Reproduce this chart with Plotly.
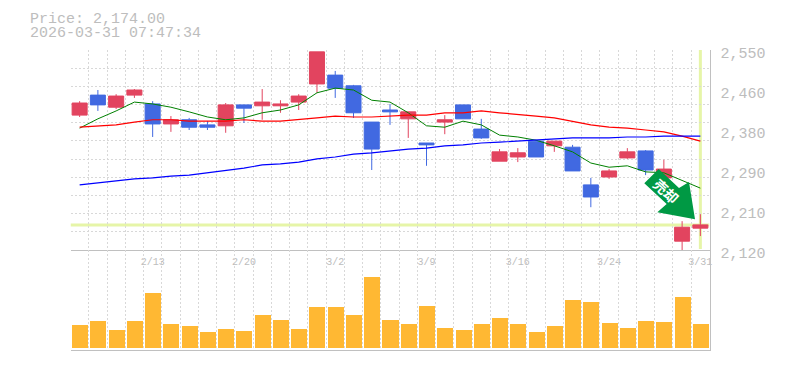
import plotly.graph_objects as go

dates = ["2/6","2/9","2/10","2/12","2/13","2/16","2/17","2/18","2/19","2/20",
         "2/24","2/25","2/26","2/27","3/2","3/3","3/4","3/5","3/6","3/9",
         "3/10","3/11","3/12","3/13","3/16","3/17","3/18","3/19","3/23","3/24",
         "3/25","3/26","3/27","3/30","3/31"]
opens  = [2410,2453,2427,2453,2434,2391,2400,2389,2387,2432,2430,2430,2438,2477,2496,2473,2395,2421,2402,2350,2395,2432,2380,2311,2320,2354,2344,2341,2260,2277,2318,2333,2275,2139,2167]
highs  = [2440,2464,2455,2466,2440,2408,2404,2397,2436,2432,2466,2442,2455,2546,2505,2475,2395,2434,2417,2350,2410,2432,2402,2337,2339,2354,2354,2346,2275,2294,2339,2335,2314,2182,2197]
lows   = [2406,2419,2423,2447,2363,2374,2378,2378,2372,2393,2400,2415,2421,2458,2447,2404,2292,2389,2361,2301,2369,2402,2359,2311,2309,2320,2331,2290,2212,2273,2316,2281,2264,2118,2150]
closes = [2436,2432,2451,2464,2391,2400,2384,2384,2432,2425,2438,2434,2451,2546,2468,2415,2337,2417,2417,2346,2400,2402,2361,2331,2329,2320,2354,2290,2234,2290,2331,2292,2294,2169,2174]
ma_short = [2382,2402,2419,2438,2434,2427,2417,2406,2400,2404,2415,2421,2432,2458,2468,2464,2442,2438,2415,2387,2384,2397,2389,2367,2363,2356,2344,2331,2307,2298,2301,2288,2286,2270,2253]
ma_mid   = [2384,2387,2389,2395,2400,2400,2397,2397,2397,2400,2397,2397,2400,2404,2408,2406,2406,2408,2410,2410,2415,2415,2419,2415,2412,2408,2404,2397,2389,2384,2382,2378,2374,2365,2354]
ma_long  = [2260,2264,2268,2273,2275,2279,2281,2286,2292,2296,2303,2305,2309,2316,2320,2326,2329,2333,2337,2339,2344,2346,2350,2352,2354,2356,2359,2361,2361,2361,2363,2363,2365,2365,2365]
volumes  = [23,27,18,27,55,24,22,16,19,17,33,28,19,41,41,33,71,28,24,42,20,18,24,30,24,16,22,48,46,25,20,27,26,51,24]

price_ticks = [2550,2464,2378,2292,2206,2120]
price_labels = ["2,550","2,460","2,380","2,290","2,210","2,120"]
date_labels = ["2/13","2/20","3/2","3/9","3/16","3/24","3/31"]
last_price = 2174
title_lines = ["Price: 2,174.00","2026-03-31 07:47:34"]
sign_text = "売却"

W, H = 785, 370
RED, BLUE, ORANGE = "#e2445f", "#4169e1", "#ffb833"
GRID, AXIS, TEXT = "#d8d8d8", "#c0c0c0", "#bdbdbd"
HILITE = "#e6f5a8"
ARROW = "#009944"
MONO = "Liberation Mono"
px = lambda x: x / W
py = lambda y: 1 - y / H

idx = list(range(len(dates)))
edges = [i - 0.5 for i in range(len(dates) + 1)]
ymin, ymax = min(price_ticks), max(price_ticks)
y_grid = [ymin + (ymax - ymin) * k / 11 for k in range(12)]
date_pos = [dates.index(d) for d in date_labels]

fig = go.Figure()
for vals, col, w in [(ma_short, "#008000", 1), (ma_mid, "#ff0000", 1.2), (ma_long, "#0000ff", 1.2)]:
    fig.add_trace(go.Scatter(x=idx, y=vals, mode="lines", line=dict(color=col, width=w),
                             xaxis="x", yaxis="y", hoverinfo="skip"))
fig.add_trace(go.Candlestick(x=idx, open=opens, high=highs, low=lows, close=closes,
                             xaxis="x", yaxis="y", whiskerwidth=0,
                             increasing=dict(line=dict(color=RED, width=1), fillcolor=RED),
                             decreasing=dict(line=dict(color=BLUE, width=1), fillcolor=BLUE)))
fig.add_trace(go.Bar(x=idx, y=volumes, width=0.877, marker=dict(color=ORANGE, line_width=0),
                     xaxis="x2", yaxis="y2"))

x_common = dict(range=[-0.5, 34.5], showgrid=False, zeroline=False, showline=True, automargin=False,
                linecolor=AXIS, linewidth=1, ticks="",
                minor=dict(tickmode="array", tickvals=edges, showgrid=True, gridcolor=GRID,
                           griddash="2px,2px", gridwidth=1, ticks=""))
fig.update_layout(
    width=W, height=H, margin=dict(l=0, r=0, t=0, b=0, autoexpand=False), autosize=False,
    paper_bgcolor="white", plot_bgcolor="white", showlegend=False,
    boxgap=0.177, boxgroupgap=0, boxmode="overlay",
    bargap=0,
    xaxis=dict(x_common, domain=[px(70.5), px(709.5)], anchor="y", rangeslider=dict(visible=False),
               tickmode="array", tickvals=date_pos, ticktext=date_labels,
               tickfont=dict(family=MONO, size=10, color=TEXT), ticklabelstandoff=2),
    xaxis2=dict(x_common, domain=[px(70.5), px(709.5)], anchor="y2", showticklabels=False),
    yaxis=dict(domain=[py(250), py(50)], range=[ymin, ymax], side="right", anchor="x", automargin=False,
               showgrid=False, zeroline=False, showline=True, linecolor=AXIS, linewidth=1, ticks="",
               tickmode="array", tickvals=price_ticks, ticktext=price_labels,
               tickfont=dict(family=MONO, size=15, color=TEXT), ticklabelshift=3, ticklabelstandoff=7,
               minor=dict(tickmode="array", tickvals=y_grid, showgrid=True, gridcolor=GRID,
                          griddash="2px,2px", gridwidth=1, ticks="")),
    yaxis2=dict(domain=[py(350), py(250)], range=[-2, 98], side="right", anchor="x2", automargin=False,
                showgrid=False, zeroline=False, showline=True, linecolor=AXIS, linewidth=1,
                ticks="", showticklabels=False),
    shapes=[
        dict(type="line", xref="x", yref="y", x0=-0.5, x1=34.5, y0=last_price, y1=last_price,
             line=dict(color=HILITE, width=3), layer="below"),
        dict(type="line", xref="x", yref="y", x0=34, x1=34, y0=ymin + 2, y1=ymax,
             line=dict(color=HILITE, width=3), layer="below"),
        dict(type="path", xref="paper", yref="paper", layer="above", fillcolor=ARROW, line_width=0,
             path="M{} {} L{} {} L{} {} L{} {} L{} {} L{} {} L{} {} Z".format(
                 px(644.3), py(183.3), px(658.7), py(169), px(679), py(188), px(689), py(182),
                 px(695), py(219.3), px(657.3), py(212.3), px(666.7), py(204))),
    ],
    annotations=[
        dict(text=title_lines[0], xref="paper", yref="paper", x=px(29), y=py(18.5), xanchor="left",
             yanchor="middle", showarrow=False, borderpad=0, height=14,
             font=dict(family=MONO, size=15, color=TEXT)),
        dict(text=title_lines[1], xref="paper", yref="paper", x=px(29), y=py(33.5), xanchor="left",
             yanchor="middle", showarrow=False, borderpad=0, height=14,
             font=dict(family=MONO, size=15, color=TEXT)),
        dict(text=sign_text, xref="paper", yref="paper", x=px(666.3), y=py(191.3), xanchor="center",
             yanchor="middle", showarrow=False, textangle=43,
             font=dict(family="Noto Sans CJK JP", size=14, color="white", weight="bold")),
    ],
)
fig.write_html("out.html", config=dict(displayModeBar=False),
               post_script="document.body.style.margin='0';document.body.style.overflow='hidden';")
